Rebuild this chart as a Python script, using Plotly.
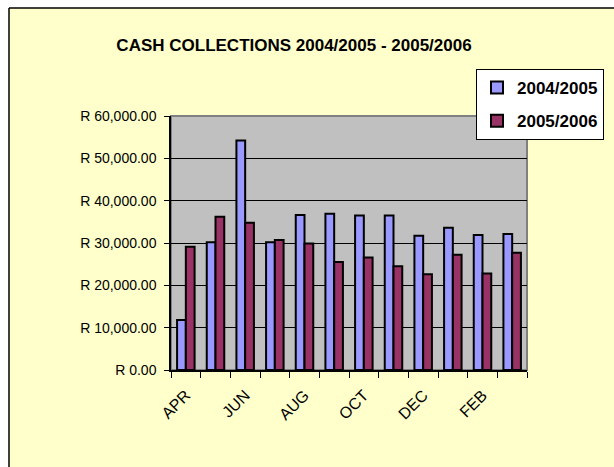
import plotly.graph_objects as go

months = ["APR", "MAY", "JUN", "JUL", "AUG", "SEP", "OCT", "NOV", "DEC", "JAN", "FEB", "MAR"]
series_names = ["2004/2005", "2005/2006"]
values_2004_2005 = [11800, 30200, 54200, 30200, 36600, 36900, 36500, 36500, 31700, 33600, 31900, 32100]
values_2005_2006 = [29100, 36200, 34800, 30700, 29900, 25500, 26600, 24500, 22600, 27200, 22800, 27700]
y_ticks = [0, 10000, 20000, 30000, 40000, 50000, 60000]
y_tick_labels = ["R {:,.2f}".format(v) for v in y_ticks]

W, H = 614, 467
L, R, T, B = 171, 87, 116, 97
PW, PH = W - L - R, H - T - B

def px_x(p):
    return (p - L) / PW

def px_y(q):
    return (H - B - q) / PH

x_idx = list(range(len(months)))

fig = go.Figure()
fig.add_trace(go.Bar(x=x_idx, y=values_2004_2005, name="<b>" + series_names[0] + "</b>", legendgroup="a",
                     marker=dict(color="#9999FF", line=dict(color="black", width=2))))
fig.add_trace(go.Bar(x=x_idx, y=values_2005_2006, name="<b>" + series_names[1] + "</b>", legendgroup="b",
                     marker=dict(color="#993366", line=dict(color="black", width=2))))

shapes = [
    dict(type="rect", xref="paper", yref="paper", x0=px_x(-5), x1=px_x(9), y0=px_y(H + 5), y1=px_y(-5),
         fillcolor="white", line=dict(width=0), layer="below"),
    dict(type="rect", xref="paper", yref="paper", x0=px_x(-5), x1=px_x(W + 5), y0=px_y(8), y1=px_y(-5),
         fillcolor="white", line=dict(width=0), layer="below"),
    dict(type="line", xref="paper", yref="paper", x0=px_x(9), x1=px_x(9), y0=px_y(8), y1=px_y(H + 5),
         line=dict(color="black", width=1.5), layer="below"),
    dict(type="line", xref="paper", yref="paper", x0=px_x(9), x1=px_x(W + 5), y0=px_y(8), y1=px_y(8),
         line=dict(color="black", width=1.5), layer="below"),
    dict(type="rect", xref="paper", yref="paper", x0=0, x1=1, y0=0, y1=1,
         fillcolor="rgba(0,0,0,0)", line=dict(color="#808080", width=2), layer="below"),
]

fig.update_layout(
    width=W, height=H,
    margin=dict(l=L, r=R, t=T, b=B, autoexpand=False),
    paper_bgcolor="#FFFFCC",
    plot_bgcolor="#C0C0C0",
    barmode="group",
    bargap=0.41,
    bargroupgap=0,
    font=dict(family="Liberation Sans, Arial", color="black"),
    title=dict(text="<b>CASH COLLECTIONS 2004/2005 - 2005/2006</b>", xref="container", x=294 / W,
               xanchor="center", y=1 - 45 / H, yanchor="middle", font=dict(size=17)),
    legend=dict(x=px_x(476), y=px_y(69), xanchor="left", yanchor="top", bgcolor="white",
                bordercolor="black", borderwidth=1, font=dict(size=17, family="Liberation Sans, Arial"),
                tracegroupgap=8, itemwidth=30),
    shapes=shapes,
    showlegend=True,
)

fig.update_xaxes(
    range=[-0.5, 11.5],
    tickmode="array", tickvals=x_idx[::2], ticktext=months[::2],
    tickangle=-45, ticks="", showgrid=False, zeroline=False,
    showline=True, linecolor="black", linewidth=1.5,
    tickfont=dict(size=16), ticklabelstandoff=8,
    minor=dict(ticks="outside", tick0=-0.5, dtick=1, ticklen=6, tickcolor="black", showgrid=False),
)
fig.update_yaxes(
    range=[0, 60000], tickmode="array", tickvals=y_ticks, ticktext=y_tick_labels,
    ticks="outside", ticklen=5, tickcolor="black",
    showgrid=True, gridcolor="black", gridwidth=1,
    showline=True, linecolor="black", linewidth=1.5, zeroline=False,
    tickfont=dict(size=14), ticklabelstandoff=5,
)

fig.write_html("out.html", post_script="document.body.style.margin='0';",
               config={"displayModeBar": False})
